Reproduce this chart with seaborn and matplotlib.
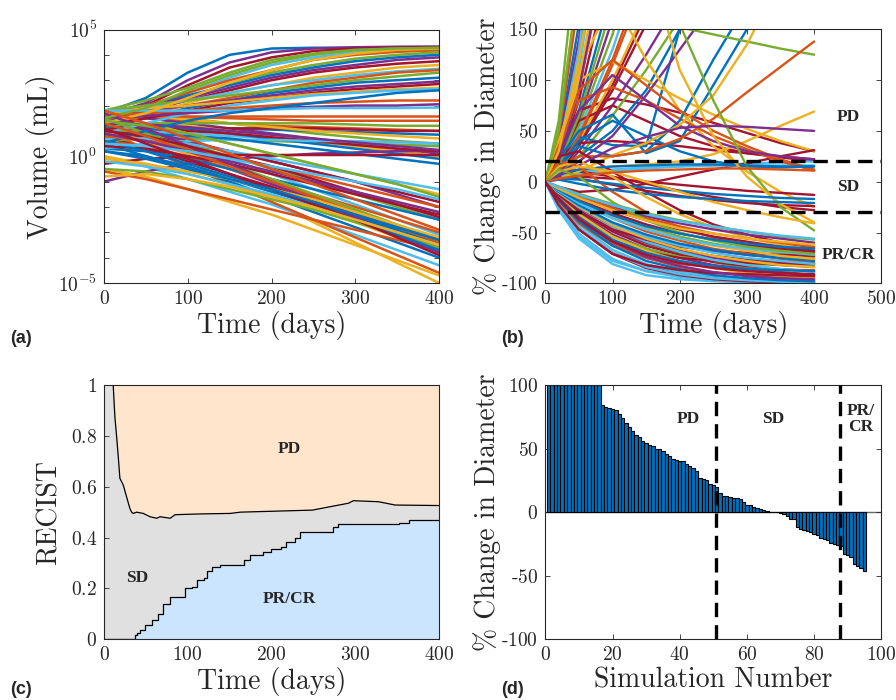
import numpy as np
import pandas as pd
import matplotlib
matplotlib.use("Agg")
import matplotlib.pyplot as plt
import seaborn as sns
from matplotlib.ticker import FixedLocator, NullLocator, FuncFormatter

# ---------------- DATA ----------------
# (a) tumour volume trajectories, log10(mL) at these times
a_times = [0, 50, 100, 150, 200, 250, 300, 350, 400]
a_log10_volume = [
    [1.7, 2.3, 3.3, 4.0, 4.25, 4.28, 4.28, 4.28, 4.28],
    [1.6, 1.5, 1.4, 1.3, 1.2, 1.15, 1.1, 1.05, 1.0],
    [1.4, 0.6, -0.2, -1.0, -1.8, -2.6, -3.4, -4.2, -5.0],
    [1.6, 2.1, 3.0, 3.7, 4.1, 4.25, 4.3, 4.32, 4.33],
    [1.8, 1.7, 1.5, 1.3, 1.1, 0.9, 0.75, 0.6, 0.5],
    [0.0, -0.4, -0.9, -1.4, -1.9, -2.5, -3.1, -3.7, -4.3],
    [1.5, 2.0, 2.8, 3.5, 3.9, 4.15, 4.25, 4.28, 4.3],
    [1.2, 1.2, 1.15, 1.1, 1.05, 1.0, 0.95, 0.9, 0.85],
    [1.0, 0.3, -0.4, -1.1, -1.8, -2.5, -3.2, -3.9, -4.6],
    [-0.5, -0.8, -1.3, -1.8, -2.3, -2.9, -3.5, -4.1, -4.7],
    [1.6, 1.5, 1.3, 1.1, 0.9, 0.7, 0.5, 0.3, 0.1],
    [1.8, 2.2, 2.7, 3.3, 3.8, 4.05, 4.2, 4.25, 4.27],
    [1.4, 1.9, 2.5, 3.1, 3.6, 3.9, 4.1, 4.2, 4.22],
    [0.8, 1.0, 1.1, 1.1, 1.1, 1.1, 1.05, 1.0, 1.0],
    [0.5, 0.0, -0.5, -1.0, -1.6, -2.2, -2.8, -3.4, -4.0],
    [1.6, 2.0, 2.5, 3.0, 3.4, 3.8, 4.0, 4.12, 4.18],
    [1.3, 1.3, 1.2, 1.0, 0.8, 0.6, 0.4, 0.2, 0.0],
    [1.2, 0.7, 0.1, -0.5, -1.1, -1.7, -2.3, -2.9, -3.5],
    [1.2, 1.7, 2.3, 2.9, 3.3, 3.6, 3.85, 4.0, 4.1],
    [1.0, 1.0, 0.9, 0.8, 0.7, 0.6, 0.5, 0.45, 0.4],
    [0.8, 0.3, -0.2, -0.7, -1.2, -1.8, -2.4, -3.0, -3.6],
    [1.5, 1.9, 2.4, 2.8, 3.2, 3.5, 3.75, 3.9, 4.0],
    [1.5, 1.6, 1.55, 1.5, 1.45, 1.4, 1.4, 1.4, 1.4],
    [0.0, -0.3, -0.7, -1.1, -1.6, -2.1, -2.6, -3.2, -3.8],
    [1.7, 2.0, 2.3, 2.7, 3.1, 3.4, 3.6, 3.8, 3.9],
    [0.6, 0.7, 0.7, 0.65, 0.6, 0.55, 0.5, 0.45, 0.4],
    [1.5, 1.0, 0.5, -0.1, -0.7, -1.3, -1.9, -2.5, -3.1],
    [1.3, 1.8, 2.2, 2.6, 3.0, 3.3, 3.5, 3.65, 3.75],
    [1.4, 1.3, 1.1, 0.9, 0.7, 0.5, 0.3, 0.1, -0.1],
    [0.6, 0.4, 0.0, -0.5, -1.0, -1.5, -2.0, -2.5, -3.0],
    [1.0, 1.6, 2.1, 2.5, 2.8, 3.1, 3.3, 3.5, 3.6],
    [-1.0, -0.6, -0.3, -0.1, 0.0, 0.1, 0.15, 0.2, 0.2],
    [1.1, 0.9, 0.5, 0.0, -0.5, -1.0, -1.5, -2.0, -2.5],
    [1.6, 1.9, 2.2, 2.5, 2.8, 3.0, 3.2, 3.35, 3.45],
    [1.1, 1.1, 1.0, 0.9, 0.75, 0.6, 0.45, 0.3, 0.2],
    [0.3, 0.2, -0.1, -0.5, -0.9, -1.3, -1.7, -2.1, -2.5],
    [1.4, 1.7, 2.0, 2.3, 2.6, 2.9, 3.1, 3.3, 3.4],
    [1.7, 1.6, 1.45, 1.3, 1.15, 1.0, 0.9, 0.8, 0.7],
    [1.3, 1.0, 0.6, 0.2, -0.2, -0.6, -1.0, -1.5, -2.0],
    [1.8, 2.0, 2.2, 2.4, 2.6, 2.8, 3.0, 3.15, 3.3],
    [0.3, 0.5, 0.6, 0.65, 0.65, 0.6, 0.6, 0.55, 0.5],
    [0.9, 0.8, 0.5, 0.2, -0.2, -0.6, -1.0, -1.4, -1.8],
    [1.1, 1.5, 1.9, 2.2, 2.5, 2.7, 2.9, 3.0, 3.1],
    [1.6, 1.6, 1.6, 1.6, 1.6, 1.6, 1.6, 1.6, 1.6],
    [1.6, 1.3, 0.9, 0.5, 0.1, -0.3, -0.7, -1.1, -1.5],
    [1.5, 1.8, 2.0, 2.2, 2.4, 2.6, 2.75, 2.85, 2.95],
    [1.2, 1.3, 1.3, 1.3, 1.3, 1.3, 1.25, 1.2, 1.2],
    [0.7, 0.7, 0.5, 0.2, -0.1, -0.4, -0.7, -1.0, -1.3],
    [1.2, 1.5, 1.8, 2.1, 2.3, 2.5, 2.65, 2.75, 2.85],
    [0.9, 0.9, 0.8, 0.7, 0.5, 0.3, 0.1, -0.1, -0.3],
    [-0.6, -0.9, -1.3, -1.7, -2.1, -2.5, -2.9, -3.3, -3.7],
    [1.7, 1.9, 2.0, 2.15, 2.3, 2.45, 2.55, 2.65, 2.7],
    [1.3, 1.25, 1.15, 1.0, 0.85, 0.7, 0.55, 0.4, 0.25],
    [-0.5, -0.6, -0.9, -1.3, -1.7, -2.1, -2.6, -3.1, -3.6],
    [0.9, 1.3, 1.7, 2.0, 2.2, 2.4, 2.5, 2.6, 2.65],
    [-0.3, -0.1, 0.0, 0.05, 0.05, 0.05, 0.05, 0.05, 0.05],
    [0.2, 0.0, -0.4, -0.9, -1.4, -1.9, -2.4, -2.9, -3.4],
    [1.6, 1.7, 1.8, 1.9, 2.0, 2.1, 2.15, 2.2, 2.2],
    [1.0, 0.6, 0.1, -0.4, -0.9, -1.5, -2.1, -2.7, -3.3],
    [1.4, 1.6, 1.7, 1.8, 1.9, 1.95, 2.0, 2.0, 2.05],
    [1.5, 0.9, 0.3, -0.3, -0.9, -1.5, -2.1, -2.7, -3.3],
    [1.8, 1.8, 1.8, 1.8, 1.85, 1.9, 1.9, 1.9, 1.92],
    [0.4, 0.3, 0.0, -0.3, -0.7, -1.1, -1.5, -1.9, -2.3],
    [0.5, 1.0, 1.4, 1.7, 1.9, 2.1, 2.3, 2.5, 2.6],
    [0.8, 0.6, 0.3, 0.0, -0.4, -0.8, -1.2, -1.6, -2.0],
    [1.3, 1.7, 2.3, 2.9, 3.4, 3.8, 4.05, 4.2, 4.25],
    [1.7, 1.1, 0.4, -0.3, -1.0, -1.7, -2.4, -3.1, -3.8],
    [1.5, 1.9, 2.6, 3.2, 3.7, 4.0, 4.18, 4.25, 4.28],
    [-0.2, -0.4, -0.7, -1.1, -1.5, -2.0, -2.5, -3.0, -3.5],
    [1.0, 0.8, 0.4, 0.0, -0.4, -0.9, -1.4, -1.9, -2.4],
    [0.6, 0.2, -0.3, -0.8, -1.3, -1.9, -2.5, -3.1, -3.7],
    [1.3, 0.8, 0.2, -0.4, -1.0, -1.6, -2.2, -2.8, -3.4],
    [-0.1, -0.3, -0.6, -0.9, -1.3, -1.7, -2.2, -2.7, -3.2],
    [0.9, 0.6, 0.2, -0.2, -0.6, -1.0, -1.4, -1.8, -2.2],
    [1.4, 1.2, 0.9, 0.5, 0.1, -0.3, -0.7, -1.1, -1.6],
    [0.5, 0.4, 0.2, -0.1, -0.4, -0.7, -1.0, -1.3, -1.7],
    [1.1, 0.5, -0.1, -0.7, -1.3, -1.9, -2.5, -3.2, -3.9],
    [0.2, -0.1, -0.5, -0.9, -1.3, -1.8, -2.3, -2.8, -3.3],
    [1.8, 1.3, 0.7, 0.1, -0.5, -1.1, -1.7, -2.3, -2.9],
    [-0.8, -0.7, -0.9, -1.2, -1.6, -2.0, -2.5, -3.0, -3.5],
]

# (b) % change in diameter at these times (None = off the top of the chart)
b_times = [0, 20, 50, 100, 150, 200, 250, 300, 350, 400]
b_blue = [
    [0, 40, 155],
    [0, 18, 70, 190],
    [0, 10, 25, 50, 90, 150, 210],
    [0, 20, 44, 36, 35, 150, 260],
    [0, 22, 50, 66, 28, 40, 95, 150, 220],
    [0, 15, 35, 25, 30, 60, 120, 175],
    [0, 15, 40, 60, 45, 30, 20, 15, 14, 15],
    [0, 8, 12, 15, 16, 17, 17, 16, 15, 15],
    [0, 3, 2, -2, -6, -9, -12, -14, -16, -17],
    [0, 2, -2, -8, -12, -15, -17, -19, -20, -21],
    [0, -18, -39, -63, -78, -86, -92, -95, -97, -98],
    [0, -16, -35, -57, -70, -78, -83, -86, -87, -88],
    [0, -10, -23, -40, -52, -61, -67, -72, -75, -78],
    [0, -8, -19, -33, -44, -51, -57, -61, -64, -66],
]
b_orange = [
    [0, 45, 180],
    [0, 22, 90, 250],
    [0, 10, 42, 115, 200],
    [0, 12, 45, 120, 210],
    [0, 35, 80, 93, 80, 62, 45, 32, 20, 11],
    [0, 30, 90, 120, 95, 70, 50, 35, 22, 12],
    [0, 15, 25, 25, 30, 42, 62, 88, 113, 138],
    [0, 20, 15, -10, -30, -45, -55, -62, -67, -70],
    [0, -18, -38, -61, -75, -84, -89, -92, -94, -95],
    [0, -19, -41, -63, -75, -81, -84, -86, -87, -87],
    [0, -9, -20, -36, -49, -58, -66, -71, -76, -80],
    [0, -6, -14, -26, -36, -44, -51, -56, -60, -64],
    [0, 3, 6, 9, 11, 12, 13, 13, 12, 11],
]
b_yellow = [
    [0, 50, 200],
    [0, 25, 100, 280],
    [0, 10, 40, 100, 170],
    [0, 40, 100, 118, 100, 82, 66, 52, 40, 30],
    [0, 35, 110, 180, 120, 70, 35, 10, -10, -25],
    [0, 8, 12, 15, 17, 20, 27, 40, 55, 69],
    [0, 3, 10, 26, 38, 56, 85, 135, 200],
    [0, 30, 120, 300, 220, 110, 45, 5, -22, -40],
    [0, 10, 15, 10, 0, -10, -20, -28, -35, -41],
    [0, 15, 20, 5, -15, -32, -45, -55, -62, -67],
    [0, -14, -32, -54, -68, -78, -85, -90, -93, -95],
    [0, -11, -25, -43, -56, -66, -73, -78, -82, -84],
    [0, -8, -19, -35, -46, -56, -63, -68, -73, -76],
    [0, -7, -16, -28, -38, -46, -51, -56, -59, -62],
]
b_purple = [
    [0, 35, 140, 400],
    [0, 15, 60, 160],
    [0, 8, 30, 75, 125, 180],
    [0, 8, 20, 45, 85, 130, 175],
    [0, 20, 90, 260],
    [0, 25, 70, 105, 80, 55, 40, 30, 25, 22],
    [0, 6, 16, 33, 44, 53, 55, 54, 52, 50],
    [0, -14, -31, -52, -66, -75, -82, -86, -89, -92],
    [0, -13, -28, -47, -60, -69, -75, -79, -82, -84],
    [0, -11, -26, -43, -55, -63, -68, -72, -75, -76],
    [0, -6, -14, -25, -34, -41, -47, -52, -56, -60],
    [0, -17, -36, -59, -74, -83, -89, -93, -95, -96],
]
b_green = [
    [0, 30, 120, 350],
    [0, 14, 55, 145, 260],
    [0, 6, 25, 65, 110, 160],
    [0, 16, 65, 175],
    [0, 60, 250, 500, 400, 152, 145, 138, 131, 125],
    [0, 50, 200, 500, 400, 155, 80, 15, -25, -48],
    [0, -12, -27, -46, -61, -71, -79, -85, -89, -92],
    [0, -15, -33, -54, -66, -74, -78, -81, -82, -83],
    [0, -8, -19, -33, -45, -54, -61, -66, -70, -74],
    [0, -5, -12, -22, -31, -38, -44, -49, -54, -57],
    [0, 12, 5, -20, -38, -50, -58, -64, -68, -71],
]
b_lightblue = [
    [0, 28, 110, 320],
    [0, 12, 50, 130, 230],
    [0, 30, 130, 380],
    [0, 5, 8, 11, 13, 15, 16, 18, 19, 20],
    [0, 6, 10, 12, 14, 15, 16, 16, 16, 16],
    [0, -28, -56, -81, -92, -96, -98, -99, -99.7, -99.9],
    [0, -25, -51, -76, -88, -94, -97, -98.6, -99.3, -99.7],
    [0, -27, -54, -78, -88, -93, -94, -95, -96, -96],
    [0, -21, -45, -70, -84, -91, -95, -97, -98.5, -99],
    [0, -20, -42, -67, -81, -89, -93, -96, -97, -98],
    [0, -11, -26, -45, -59, -69, -77, -82, -86, -89],
    [0, -10, -24, -41, -54, -63, -70, -75, -78, -81],
    [0, -9, -21, -36, -47, -56, -62, -66, -69, -72],
    [0, -5, -13, -23, -32, -39, -44, -49, -53, -56],
]
b_darkred = [
    [0, 20, 80, 220],
    [0, 8, 35, 90, 155],
    [0, 9, 38, 95, 165],
    [0, 30, 70, 82, 76, 68, 58, 48, 38, 30],
    [0, 20, 60, 75, 60, 45, 35, 28, 24, 20],
    [0, 25, 38, 40, 38, 35, 31, 28, 25, 22],
    [0, -5, -10, -8, -2, 5, 12, 18, 25, 31],
    [0, 4, 5, 3, 0, -3, -6, -9, -11, -13],
    [0, 5, 3, -3, -9, -14, -18, -21, -23, -24],
    [0, 8, 10, 5, -2, -9, -15, -20, -25, -28],
    [0, 25, 30, 10, -10, -28, -42, -52, -60, -65],
    [0, -22, -47, -71, -85, -92, -96, -98, -99, -99.3],
    [0, -22, -46, -70, -83, -90, -94, -96, -97, -97.5],
    [0, -13, -29, -49, -63, -72, -79, -83, -86, -88],
    [0, -12, -27, -46, -58, -67, -73, -77, -79, -81],
    [0, -18, -38, -58, -69, -75, -78, -80, -81, -81],
    [0, -13, -29, -47, -57, -64, -68, -70, -72, -73],
    [0, -8, -18, -31, -42, -51, -57, -62, -66, -69],
    [0, -7, -15, -28, -38, -47, -54, -59, -64, -68],
    [0, -23, -47, -71, -82, -87, -90, -91, -92, -93],
    [0, -17, -37, -59, -72, -80, -85, -88, -90, -91],
]
b_pd_threshold = 20
b_pr_threshold = -30

# (c) RECIST fractions over time
c_time_upper = [0, 11, 13, 15, 17, 19, 23, 27, 31, 33, 35, 39, 47, 55, 63, 67, 79, 85,
                115, 151, 163, 249, 292, 298, 328, 348, 400]
c_upper = [1.0, 1.0, 0.875, 0.8, 0.72, 0.633, 0.607, 0.56, 0.514, 0.5, 0.495, 0.5, 0.495,
           0.482, 0.476, 0.482, 0.476, 0.49, 0.493, 0.495, 0.5, 0.508, 0.535, 0.545, 0.541,
           0.528, 0.526]
c_time_lower = [0, 37, 39, 43, 49, 57, 65, 71, 79, 93, 97, 105, 111, 119, 123, 129, 139, 163,
                167, 175, 190, 200, 212, 218, 228, 234, 268, 274, 280, 352, 364, 400]
c_lower = [0, 0.015, 0.024, 0.037, 0.056, 0.076, 0.1, 0.14, 0.165, 0.165, 0.2, 0.207, 0.233,
           0.24, 0.27, 0.283, 0.292, 0.292, 0.312, 0.332, 0.345, 0.354, 0.364, 0.384, 0.397,
           0.42, 0.423, 0.443, 0.453, 0.459, 0.469, 0.469]

# (d) waterfall of final % change in diameter
d_sim = list(range(1, 96))
d_change = [100, 100, 100, 100, 100, 100, 100, 100, 100, 100, 100, 100, 100, 100, 100, 100,
            84, 83, 82, 81, 80, 77, 74, 70, 67, 64, 61, 59, 56, 54, 53, 52, 50, 50, 48, 46,
            44, 42, 41, 40, 40, 38, 36, 35, 32, 27, 26, 25, 22, 21, 20, 15, 13, 12.5, 12,
            11.5, 11, 10, 8, 6, 5.5, 4, 3.5, 2.5, 1.5, 1, 0.4, 0.3, 0.2, -0.5, -1.5, -3, -5,
            -5, -12, -13, -14, -15, -16, -17, -18, -20, -21, -22, -24, -25, -26, -27, -33,
            -34, -35, -41, -42, -44, -46]
d_sd_start = 50.7
d_pr_start = 87.8

# ---------------- STYLE ----------------
sns.set_style("ticks")
plt.rcParams.update({
    "font.family": ["cmr10", "DejaVu Serif"],
    "mathtext.fontset": "cm",
    "axes.unicode_minus": False,
    "axes.formatter.use_mathtext": True,
    "xtick.direction": "in", "ytick.direction": "in",
    "xtick.top": True, "ytick.right": True,
    "xtick.major.size": 3.5, "ytick.major.size": 3.5,
    "xtick.major.width": 0.6, "ytick.major.width": 0.6,
    "axes.edgecolor": "#262626", "axes.linewidth": 0.8,
    "xtick.color": "#262626", "ytick.color": "#262626",
    "xtick.labelsize": 14, "ytick.labelsize": 14,
    "axes.labelsize": 20,
})
mcol = ["#0072BD", "#D95319", "#EDB120", "#7E2F8E", "#77AC30", "#4DBEEE", "#A2142F"]
bold_serif = dict(family="Liberation Serif", weight="bold", fontsize=12.5)
panel_font = dict(family="Liberation Sans", weight="bold", fontsize=13)


def _num(v, p):
    s = f"{abs(v):g}"
    return ("-" if v < 0 else "") + r"$\mathrm{" + s + "}$"


num_fmt = FuncFormatter(_num)

fig = plt.figure(figsize=(8.96, 7.0), dpi=100)
W, H = 896, 700
def box(l, t, r, b):
    return [l / W, 1 - b / H, (r - l) / W, (b - t) / H]

axA = fig.add_axes(box(104, 29.5, 439, 283))
axB = fig.add_axes(box(545.3, 29.3, 881.3, 283.3))
axC = fig.add_axes(box(104, 385, 438.7, 639.3))
axD = fig.add_axes(box(545.3, 385, 881.3, 639.3))

# ---- (a) ----
rows = []
pal_a = {}
for i, curve in enumerate(a_log10_volume):
    cid = f"a{i:03d}"
    pal_a[cid] = mcol[i % 7]
    for t, lv in zip(a_times, curve):
        rows.append((cid, t, 10.0 ** lv))
dfa = pd.DataFrame(rows, columns=["curve", "t", "V"])
sns.lineplot(data=dfa, x="t", y="V", hue="curve", palette=pal_a, estimator=None,
             legend=False, lw=1.8, ax=axA)
axA.set_yscale("log")
axA.set_xlim(0, 400)
axA.set_ylim(1e-5, 1e5)
axA.yaxis.set_major_locator(FixedLocator([10.0 ** k for k in range(-5, 6)]))
axA.yaxis.set_minor_locator(NullLocator())
axA.yaxis.set_major_formatter(FuncFormatter(
    lambda v, p: (r"$10^{%d}$" % round(np.log10(v))) if round(np.log10(v)) in (-5, 0, 5) else ""))
axA.set_xticks([0, 100, 200, 300, 400])
axA.xaxis.set_major_formatter(num_fmt)
axA.set_xlabel("Time (days)", labelpad=2)
axA.set_ylabel("Volume (mL)", labelpad=2)

# ---- (b) ----
groups = [b_blue, b_orange, b_yellow, b_purple, b_green, b_lightblue, b_darkred]
order = []
for gi, g in enumerate(groups):
    for j in range(len(g)):
        order.append(((j + 0.5) / len(g), gi, j))
order.sort()
rows = []
pal_b = {}
for k, (_, gi, j) in enumerate(order):
    cid = f"b{k:03d}"
    pal_b[cid] = mcol[gi]
    for t, v in zip(b_times, groups[gi][j]):
        if v is not None:
            rows.append((cid, t, v))
dfb = pd.DataFrame(rows, columns=["curve", "t", "pct"])
sns.lineplot(data=dfb, x="t", y="pct", hue="curve", palette=pal_b, estimator=None,
             legend=False, lw=1.7, ax=axB)
for thr in (b_pd_threshold, b_pr_threshold):
    axB.axhline(thr, color="black", lw=2.4, dashes=(4.3, 2.4), zorder=5)
axB.set_xlim(0, 500)
axB.set_ylim(-100, 150)
axB.set_xticks([0, 100, 200, 300, 400, 500])
axB.set_yticks([-100, -50, 0, 50, 100, 150])
axB.xaxis.set_major_formatter(num_fmt)
axB.yaxis.set_major_formatter(num_fmt)
axB.set_xlabel("Time (days)", labelpad=2)
axB.set_ylabel("% Change in Diameter", labelpad=0)
axB.text(451, 64, "PD", ha="center", va="center", **bold_serif)
axB.text(451, -5, "SD", ha="center", va="center", **bold_serif)
axB.text(451, -72, "PR/CR", ha="center", va="center", **bold_serif)

# ---- (c) ----
axC.set_facecolor("#E0E0E0")
axC.fill_between(c_time_upper, c_upper, 1.0, color="#FFE5CC", lw=0)
axC.fill_between(c_time_lower, 0, c_lower, step="post", color="#CCE5FF", lw=0)
sns.lineplot(x=c_time_upper, y=c_upper, color="black", lw=0.9, ax=axC, estimator=None)
sns.lineplot(x=c_time_lower, y=c_lower, color="black", lw=0.9, ax=axC, estimator=None,
             drawstyle="steps-post")
axC.set_xlim(0, 400)
axC.set_ylim(0, 1)
axC.set_xticks([0, 100, 200, 300, 400])
axC.set_yticks([0, 0.2, 0.4, 0.6, 0.8, 1])
axC.xaxis.set_major_formatter(num_fmt)
axC.yaxis.set_major_formatter(num_fmt)
axC.set_xlabel("Time (days)", labelpad=2)
axC.set_ylabel("RECIST", labelpad=6)
axC.text(222, 0.75, "PD", ha="center", va="center", **bold_serif)
axC.text(40, 0.24, "SD", ha="center", va="center", **bold_serif)
axC.text(222, 0.157, "PR/CR", ha="center", va="center", **bold_serif)

# ---- (d) ----
dfd = pd.DataFrame({"sim": d_sim, "change": d_change})
sns.barplot(data=dfd, x="sim", y="change", native_scale=True, width=1.0, color="#0072BD",
            saturation=1, edgecolor="black", linewidth=0.8, errorbar=None, ax=axD)
axD.axhline(0, color="#666666", lw=1.0, zorder=0.5)
for xv in (d_sd_start, d_pr_start):
    axD.axvline(xv, color="black", lw=2.4, dashes=(4.3, 2.4), zorder=5)
axD.set_xlim(0, 100)
axD.set_ylim(-100, 100)
axD.set_xticks([0, 20, 40, 60, 80, 100])
axD.set_yticks([-100, -50, 0, 50, 100])
axD.xaxis.set_major_formatter(num_fmt)
axD.yaxis.set_major_formatter(num_fmt)
axD.set_xlabel("Simulation Number", labelpad=2)
axD.set_ylabel("% Change in Diameter", labelpad=0)
axD.text(42.7, 73, "PD", ha="center", va="center", **bold_serif)
axD.text(67.8, 73, "SD", ha="center", va="center", **bold_serif)
axD.text(93.8, 73, "PR/\nCR", ha="center", va="center", linespacing=1.0, **bold_serif)

for ax in (axA, axB, axC, axD):
    ax.tick_params(which="both", top=True, right=True, direction="in", pad=5)
    for s in ax.spines.values():
        s.set_visible(True)

fig.text(10 / W, 1 - 339 / H, "(a)", ha="left", va="center", **panel_font)
fig.text(501 / W, 1 - 339 / H, "(b)", ha="left", va="center", **panel_font)
fig.text(10 / W, 1 - 689 / H, "(c)", ha="left", va="center", **panel_font)
fig.text(501 / W, 1 - 689 / H, "(d)", ha="left", va="center", **panel_font)

fig.savefig("out.png", dpi=100)
